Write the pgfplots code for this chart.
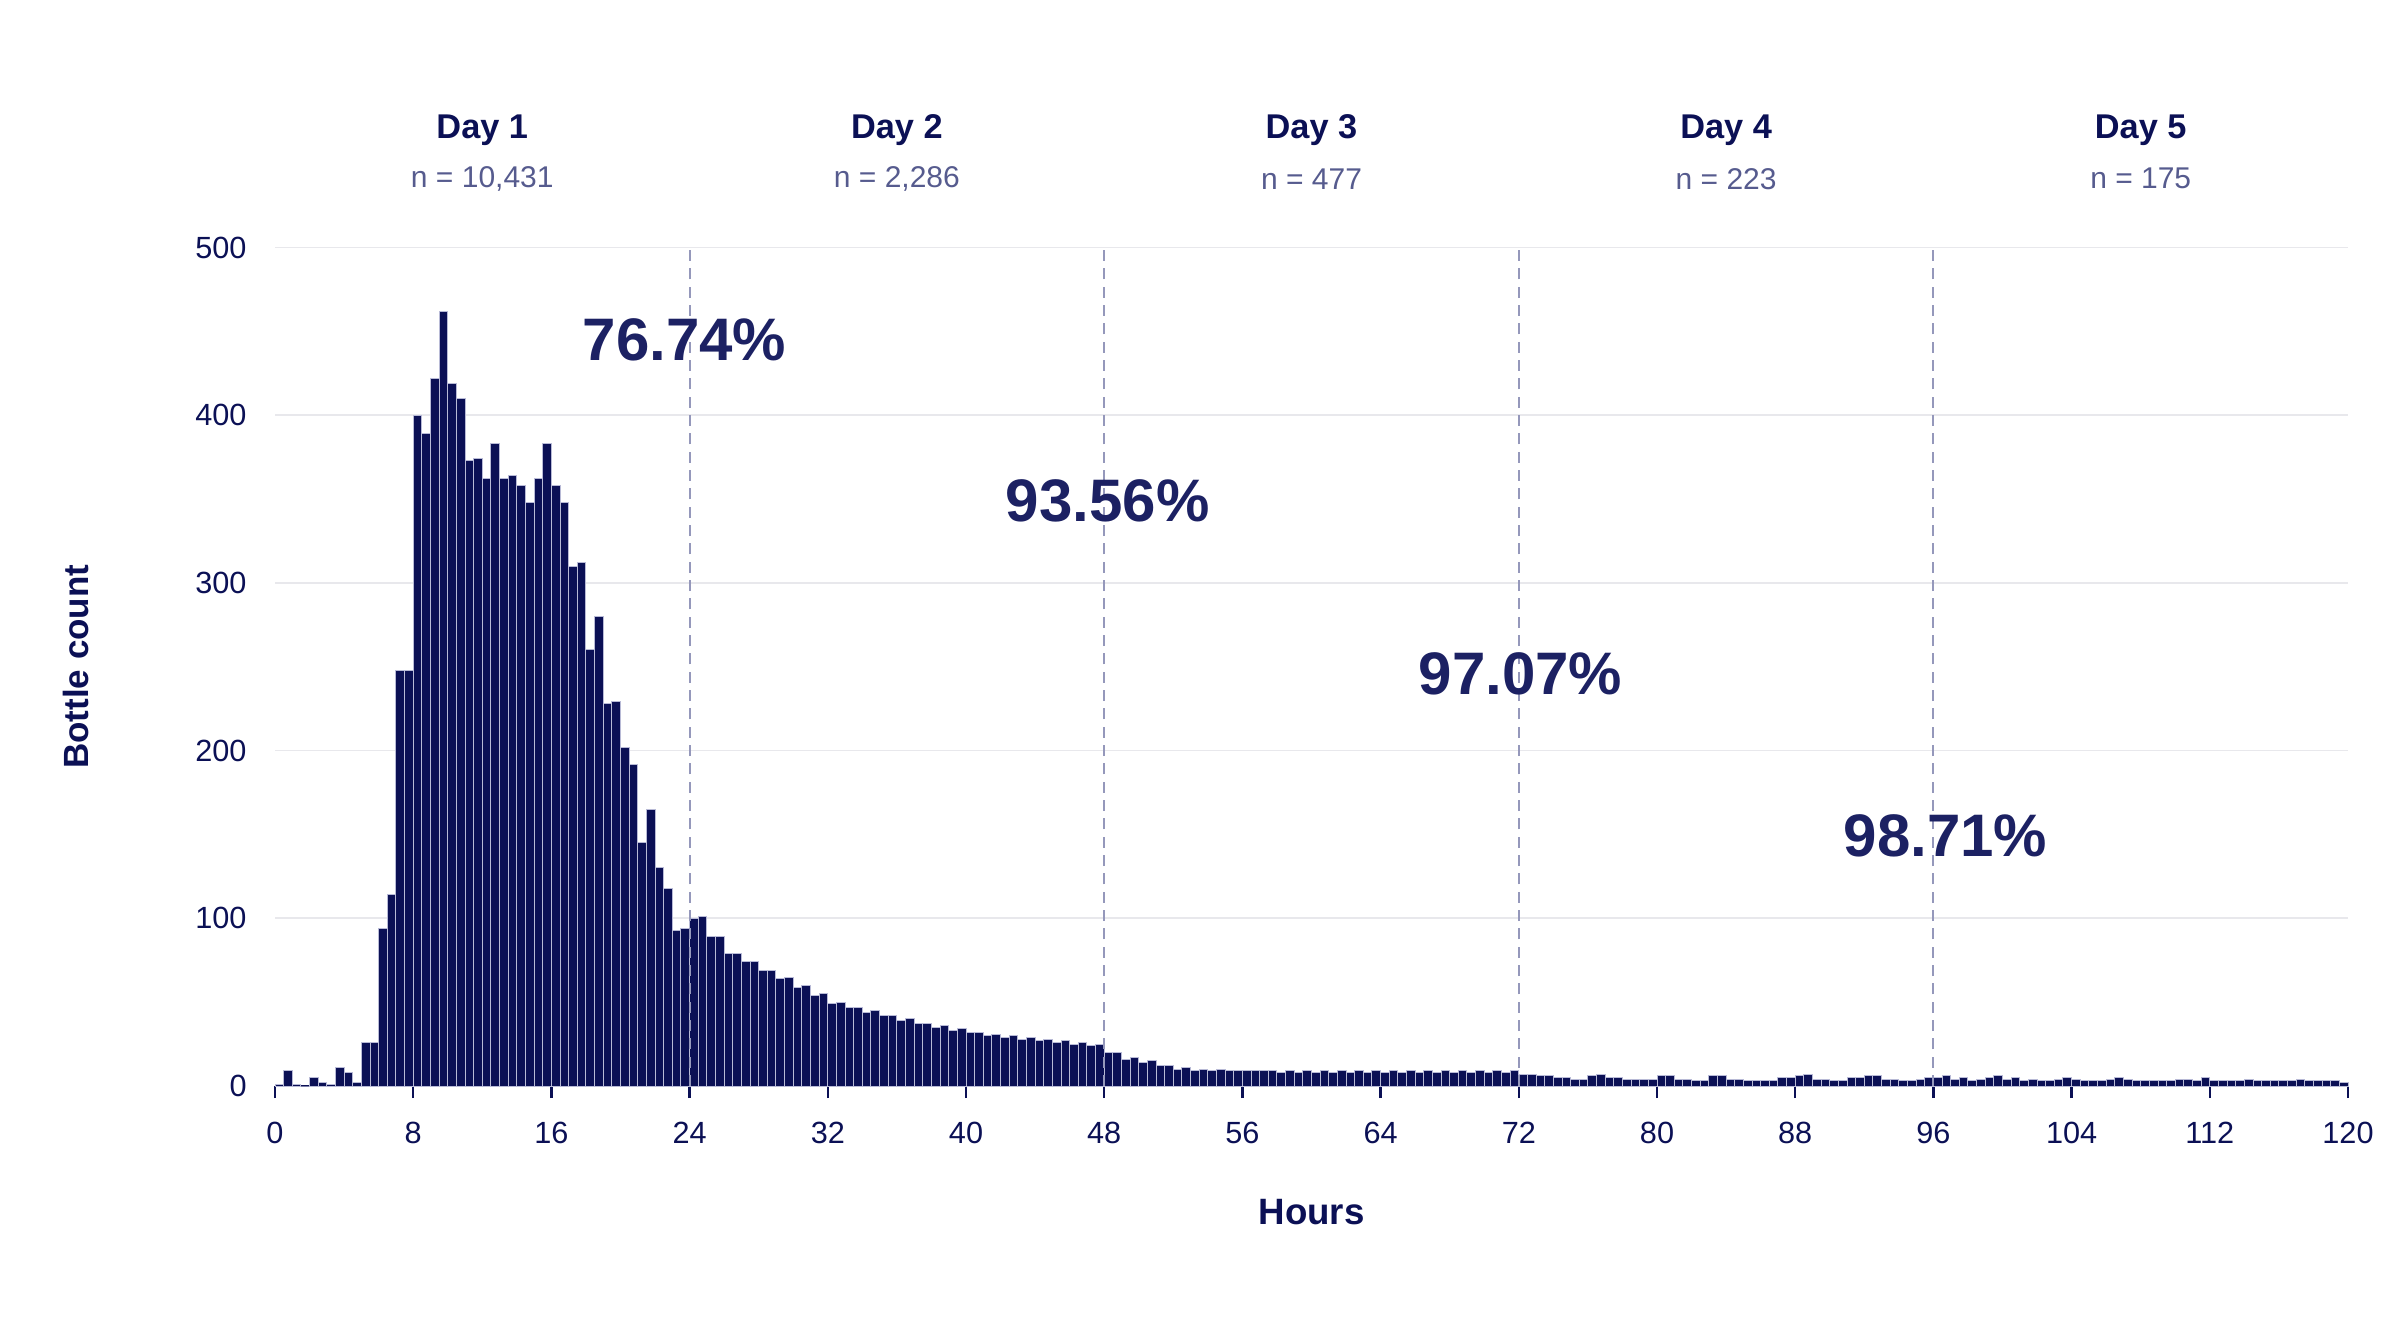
\documentclass[border=0pt]{standalone}
\usepackage{fontspec}
\setmainfont{Liberation Sans}
\usepackage{pgfplots}
\pgfplotsset{compat=1.18}
\definecolor{navy}{HTML}{0B1055}
\definecolor{pctcol}{HTML}{1C2163}
\definecolor{nlab}{HTML}{565B8E}
\definecolor{dashcol}{HTML}{9598BB}
\definecolor{gridcol}{HTML}{E8E8EC}
\definecolor{sepcol}{HTML}{B8BAD6}
\begin{document}
\begin{tikzpicture}
\useasboundingbox (0,0) rectangle (714.3pt,401.7pt);
\begin{axis}[
  at={(82.5pt,75.9pt)}, anchor=south west, scale only axis,
  width=621.9pt, height=251.55pt,
  xmin=0, xmax=120, ymin=0, ymax=500,
  axis lines=left, axis line style={-},
  y axis line style={draw=none},
  x axis line style={draw=navy, line width=0.7pt},
  xtick={0,8,...,120}, ytick={0,100,...,500},
  tick align=outside, major tick length=3.6pt,
  xtick style={draw=navy, line width=0.7pt},
  ytick style={draw=none},
  ymajorgrids, grid style={draw=gridcol, line width=0.5pt},
  /pgf/number format/assume math mode=true,
  tick label style={font=\fontsize{9.2}{11}\selectfont, text=navy},
  xticklabel style={yshift=-3.6pt},
  yticklabel style={xshift=-1.4pt},
  clip=false,
]
\addplot[ybar interval, fill=navy, draw=sepcol, line width=0.3pt] table[x=x,y=y] {
x y
0 1
0.5 9
1 1
1.5 0
2 5
2.5 2
3 1
3.5 11
4 8
4.5 2
5 26
5.5 26
6 94
6.5 114
7 248
7.5 248
8 400
8.5 389
9 422
9.5 462
10 419
10.5 410
11 373
11.5 374
12 362
12.5 383
13 362
13.5 364
14 358
14.5 348
15 362
15.5 383
16 358
16.5 348
17 310
17.5 312
18 260
18.5 280
19 228
19.5 229
20 202
20.5 192
21 145
21.5 165
22 130
22.5 118
23 93
23.5 94
24 100
24.5 101
25 89
25.5 89
26 79
26.5 79
27 74
27.5 74
28 69
28.5 69
29 64
29.5 65
30 59
30.5 60
31 54
31.5 55
32 49
32.5 50
33 47
33.5 47
34 44
34.5 45
35 42
35.5 42
36 39
36.5 40
37 37
37.5 37
38 35
38.5 36
39 33
39.5 34
40 32
40.5 32
41 30
41.5 31
42 29
42.5 30
43 28
43.5 29
44 27
44.5 28
45 26
45.5 27
46 25
46.5 26
47 24
47.5 25
48 20
48.5 20
49 16
49.5 17
50 14
50.5 15
51 12
51.5 12
52 10
52.5 11
53 9
53.5 10
54 9
54.5 10
55 9
55.5 9
56 9
56.5 9
57 9
57.5 9
58 8
58.5 9
59 8
59.5 9
60 8
60.5 9
61 8
61.5 9
62 8
62.5 9
63 8
63.5 9
64 8
64.5 9
65 8
65.5 9
66 8
66.5 9
67 8
67.5 9
68 8
68.5 9
69 8
69.5 9
70 8
70.5 9
71 8
71.5 9
72 7
72.5 7
73 6
73.5 6
74 5
74.5 5
75 4
75.5 4
76 6
76.5 7
77 5
77.5 5
78 4
78.5 4
79 4
79.5 4
80 6
80.5 6
81 4
81.5 4
82 3
82.5 3
83 6
83.5 6
84 4
84.5 4
85 3
85.5 3
86 3
86.5 3
87 5
87.5 5
88 6
88.5 7
89 4
89.5 4
90 3
90.5 3
91 5
91.5 5
92 6
92.5 6
93 4
93.5 4
94 3
94.5 3
95 4
95.5 5
96 5
96.5 6
97 4
97.5 5
98 3
98.5 4
99 5
99.5 6
100 4
100.5 5
101 3
101.5 4
102 3
102.5 3
103 4
103.5 5
104 4
104.5 3
105 3
105.5 3
106 4
106.5 5
107 4
107.5 3
108 3
108.5 3
109 3
109.5 3
110 4
110.5 4
111 3
111.5 5
112 3
112.5 3
113 3
113.5 3
114 4
114.5 3
115 3
115.5 3
116 3
116.5 3
117 4
117.5 3
118 3
118.5 3
119 3
119.5 2
120 2
};
\foreach \h in {24,48,72,96} {
  \edef\tmp{\noexpand\draw[dashcol, line width=0.6pt, dash pattern=on 3.3pt off 2.2pt] (axis cs:\h,0) -- (axis cs:\h,500);}
  \tmp
}
\node[font=\bfseries\fontsize{18}{20}\selectfont, text=pctcol] at (axis cs:23.7,445) {76.74\%};
\node[font=\bfseries\fontsize{18}{20}\selectfont, text=pctcol] at (axis cs:48.2,349) {93.56\%};
\node[font=\bfseries\fontsize{18}{20}\selectfont, text=pctcol] at (axis cs:72.1,246) {97.07\%};
\node[font=\bfseries\fontsize{18}{20}\selectfont, text=pctcol] at (axis cs:96.7,149) {98.71\%};
\node[font=\bfseries\fontsize{10.3}{12}\selectfont, text=navy] at (axis cs:12,570) {Day 1};
\node[font=\bfseries\fontsize{10.3}{12}\selectfont, text=navy] at (axis cs:36,570) {Day 2};
\node[font=\bfseries\fontsize{10.3}{12}\selectfont, text=navy] at (axis cs:60,570) {Day 3};
\node[font=\bfseries\fontsize{10.3}{12}\selectfont, text=navy] at (axis cs:84,570) {Day 4};
\node[font=\bfseries\fontsize{10.3}{12}\selectfont, text=navy] at (axis cs:108,570) {Day 5};
\node[font=\fontsize{9}{11}\selectfont, text=nlab] at (axis cs:12,541) {n = 10,431};
\node[font=\fontsize{9}{11}\selectfont, text=nlab] at (axis cs:36,541) {n = 2,286};
\node[font=\fontsize{9}{11}\selectfont, text=nlab] at (axis cs:60,541) {n = 477};
\node[font=\fontsize{9}{11}\selectfont, text=nlab] at (axis cs:84,541) {n = 223};
\node[font=\fontsize{9}{11}\selectfont, text=nlab] at (axis cs:108,541) {n = 175};
\node[font=\bfseries\fontsize{11}{13}\selectfont, text=navy] at (rel axis cs:0.5,0) [yshift=-37.8pt] {Hours};
\node[xshift=-59.7pt, rotate=90, font=\bfseries\fontsize{10.5}{12}\selectfont, text=navy] at (rel axis cs:0,0.5) {Bottle count};
\end{axis}
\end{tikzpicture}
\end{document}
